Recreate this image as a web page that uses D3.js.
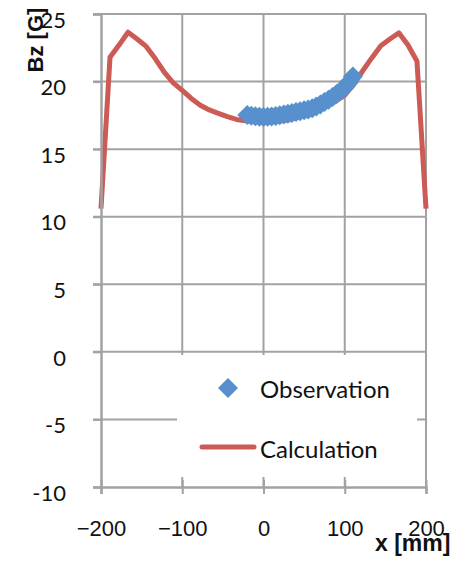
<!DOCTYPE html>
<html>
<head>
<meta charset="utf-8">
<script src="https://cdnjs.cloudflare.com/ajax/libs/d3/7.8.5/d3.min.js"></script>
<style>
  body { margin: 0; background: #fff; }
  svg { display: block; }
</style>
</head>
<body>
<svg id="chart" width="468" height="567"></svg>
<script>
// Calculated Bz along x (red line)
const calcX = [-200, -188.9, -177.8, -166.7, -155.6, -144.4, -133.3, -122.2, -111.1, -100,
  -88.9, -77.8, -66.7, -55.6, -44.4, -33.3, -22.2, -11.1, 0,
  11.1, 22.2, 33.3, 44.4, 55.6, 66.7, 77.8, 88.9, 100,
  111.1, 122.2, 133.3, 144.4, 155.6, 166.7, 177.8, 188.9, 200];
const calcBz = [10.6, 21.8, 22.7, 23.65, 23.15, 22.6, 21.7, 20.7, 19.9, 19.35,
  18.75, 18.25, 17.9, 17.65, 17.4, 17.2, 17.1, 17.05, 17.0,
  17.05, 17.1, 17.2, 17.4, 17.6, 17.9, 18.2, 18.55, 19.0,
  19.8, 20.8, 21.75, 22.65, 23.15, 23.6, 22.7, 21.5, 10.6];

// Measured Bz (blue diamonds)
const obsX = [-20, -15, -10, -5, 0, 5, 10, 15, 20, 25, 30, 35, 40, 45, 50,
  55, 60, 65, 70, 75, 80, 85, 90, 95, 100, 105, 110];
const obsBz = [17.52, 17.47, 17.43, 17.4, 17.38, 17.39, 17.42, 17.46, 17.5, 17.56, 17.62, 17.68, 17.74, 17.8, 17.87,
  17.94, 18.02, 18.15, 18.3, 18.48, 18.65, 18.85, 19.08, 19.32, 19.58, 19.95, 20.37];

const xTicks = [-200, -100, 0, 100, 200];
const yTicks = [-10, -5, 0, 5, 10, 15, 20, 25];
const seriesNames = ['Observation', 'Calculation'];

const blue = '#5890cd';
const red = '#cc5a55';
const grey = '#a2a2a2';

const svg = d3.select('#chart');
const plot = { left: 101, right: 426, top: 14, bottom: 487 };

const x = d3.scaleLinear().domain([-200, 200]).range([plot.left, plot.right]);
const y = d3.scaleLinear().domain([-10, 25]).range([plot.bottom, plot.top]);

svg.append('rect').attr('width', 468).attr('height', 567).attr('fill', '#fff');

// grid
const grid = svg.append('g').attr('class', 'grid');
grid.selectAll('line.h')
  .data(yTicks.filter(d => d > -10))
  .join('line')
  .attr('class', 'h')
  .attr('x1', x(-200) - 8)
  .attr('x2', x(200))
  .attr('y1', d => y(d))
  .attr('y2', d => y(d))
  .attr('stroke', grey)
  .attr('stroke-width', 2);

grid.selectAll('line.v')
  .data(xTicks.filter(d => d > -200))
  .join('line')
  .attr('class', 'v')
  .attr('x1', d => x(d))
  .attr('x2', d => x(d))
  .attr('y1', y(25))
  .attr('y2', y(-10))
  .attr('stroke', grey)
  .attr('stroke-width', 2);

// series
const line = d3.line().x(d => x(d[0])).y(d => y(d[1]));
svg.append('path')
  .datum(d3.zip(calcX, calcBz))
  .attr('d', line)
  .attr('fill', 'none')
  .attr('stroke', red)
  .attr('stroke-width', 5)
  .attr('stroke-linejoin', 'round');

const diamond = d3.symbol().type(d3.symbolSquare).size(200);
svg.append('g')
  .selectAll('path')
  .data(d3.zip(obsX, obsBz))
  .join('path')
  .attr('d', diamond)
  .attr('transform', d => `translate(${x(d[0])},${y(d[1])}) rotate(45)`)
  .attr('fill', blue);

// axes
const yAxis = svg.append('g')
  .attr('transform', `translate(${plot.left},0)`)
  .call(d3.axisLeft(y).tickValues(yTicks).tickSize(8).tickPadding(27).tickFormat(d => String(d)));
yAxis.select('.domain').attr('stroke', grey).attr('stroke-width', 2.5);
yAxis.selectAll('.tick line').attr('stroke', grey).attr('stroke-width', 2);
yAxis.selectAll('.tick text')
  .attr('font-family', 'Lato, sans-serif')
  .attr('font-size', 22)
  .attr('fill', '#111')
  .attr('dy', '0.6em');

const xAxis = svg.append('g')
  .attr('transform', `translate(0,${plot.bottom})`)
  .call(d3.axisBottom(x).tickValues(xTicks).tickSize(7).tickPadding(26));
xAxis.select('.domain').attr('stroke', grey).attr('stroke-width', 2.5);
xAxis.selectAll('.tick line').attr('stroke', grey).attr('stroke-width', 2).attr('y1', -7);
xAxis.selectAll('.tick text')
  .attr('font-family', '"Liberation Sans", Arial, sans-serif')
  .attr('font-size', 22)
  .attr('fill', '#111');

// axis titles
svg.append('text')
  .attr('transform', 'translate(43,40) rotate(-90)')
  .attr('text-anchor', 'middle')
  .attr('font-family', '"Liberation Sans", Arial, sans-serif')
  .attr('font-weight', 'bold')
  .attr('font-size', 22)
  .attr('fill', '#111')
  .text('Bz [G]');

svg.append('text')
  .attr('x', 375)
  .attr('y', 551)
  .attr('font-family', '"Liberation Sans", Arial, sans-serif')
  .attr('font-weight', 'bold')
  .attr('font-size', 23)
  .attr('fill', '#111')
  .text('x [mm]');

// legend
const legend = svg.append('g').attr('class', 'legend');
legend.append('rect')
  .attr('x', 177).attr('y', 355)
  .attr('width', 240).attr('height', 122)
  .attr('fill', '#fff');

legend.append('path')
  .attr('d', diamond)
  .attr('transform', 'translate(228,388) rotate(45)')
  .attr('fill', blue);
legend.append('line')
  .attr('x1', 202).attr('x2', 254)
  .attr('y1', 447).attr('y2', 447)
  .attr('stroke', red)
  .attr('stroke-width', 5)
  .attr('stroke-linecap', 'round');

legend.selectAll('text')
  .data(seriesNames)
  .join('text')
  .attr('x', 260)
  .attr('y', (d, i) => 398 + i * 60)
  .attr('font-family', 'Lato, sans-serif')
  .attr('font-size', 24)
  .attr('fill', '#111')
  .text(d => d);
</script>
</body>
</html>
